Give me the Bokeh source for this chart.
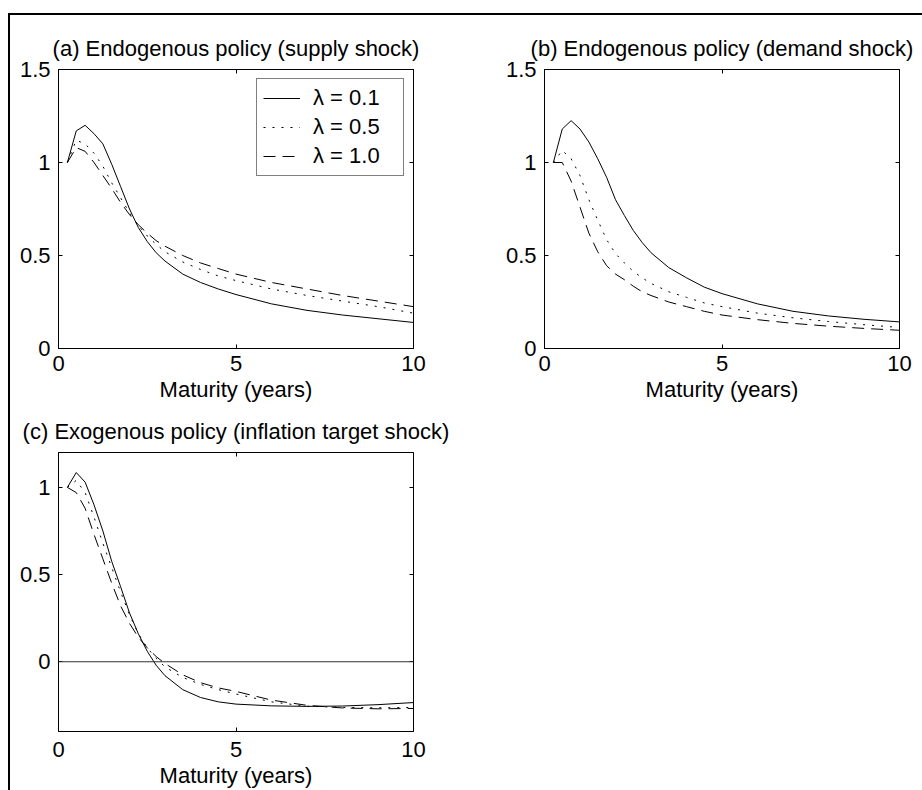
from bokeh.plotting import figure
from bokeh.models import Range1d, LinearAxis, FixedTicker, Legend, LegendItem, Span
from bokeh.layouts import column, row
from bokeh.embed import file_html
from bokeh.resources import INLINE

# ---- data ----
maturity = [0.25, 0.5, 0.75, 1.0, 1.25, 1.5, 1.75, 2.0, 2.25, 2.5, 2.75, 3.0,
            3.5, 4.0, 4.5, 5.0, 6.0, 7.0, 8.0, 9.0, 10.0]

supply_l01 = [1.00, 1.17, 1.20, 1.155, 1.10, 0.99, 0.87, 0.75, 0.65, 0.575, 0.515, 0.47,
              0.40, 0.355, 0.32, 0.29, 0.24, 0.205, 0.18, 0.16, 0.14]
supply_l05 = [1.00, 1.12, 1.10, 1.05, 0.98, 0.89, 0.81, 0.73, 0.66, 0.605, 0.56, 0.52,
              0.465, 0.425, 0.39, 0.365, 0.32, 0.285, 0.255, 0.225, 0.19]
supply_l10 = [1.00, 1.08, 1.06, 1.00, 0.93, 0.86, 0.785, 0.72, 0.665, 0.62, 0.58, 0.55,
              0.50, 0.46, 0.43, 0.40, 0.355, 0.32, 0.285, 0.255, 0.225]

demand_l01 = [1.00, 1.18, 1.225, 1.18, 1.11, 1.02, 0.92, 0.80, 0.715, 0.635, 0.57, 0.515,
              0.435, 0.38, 0.33, 0.295, 0.24, 0.20, 0.175, 0.157, 0.143]
demand_l05 = [1.00, 1.065, 1.02, 0.93, 0.80, 0.69, 0.585, 0.51, 0.46, 0.415, 0.38, 0.35,
              0.305, 0.275, 0.245, 0.225, 0.19, 0.165, 0.145, 0.128, 0.113]
demand_l10 = [1.00, 1.00, 0.90, 0.76, 0.62, 0.52, 0.445, 0.40, 0.37, 0.335, 0.305, 0.285,
              0.25, 0.225, 0.20, 0.18, 0.155, 0.135, 0.12, 0.108, 0.098]

target_l01 = [1.00, 1.085, 1.03, 0.90, 0.75, 0.575, 0.43, 0.28, 0.16, 0.06, -0.02, -0.08,
              -0.16, -0.205, -0.23, -0.243, -0.253, -0.256, -0.254, -0.246, -0.234]
target_l05 = [1.00, 1.04, 0.97, 0.83, 0.68, 0.54, 0.40, 0.27, 0.16, 0.08, 0.02, -0.03,
              -0.09, -0.13, -0.16, -0.185, -0.23, -0.255, -0.262, -0.264, -0.262]
target_l10 = [1.00, 0.97, 0.88, 0.73, 0.59, 0.45, 0.32, 0.22, 0.14, 0.08, 0.03, -0.01,
              -0.075, -0.12, -0.15, -0.17, -0.22, -0.25, -0.265, -0.27, -0.268]

legend_labels = ["\u03bb = 0.1", "\u03bb = 0.5", "\u03bb = 1.0"]
titles = ["(a) Endogenous policy (supply shock)",
          "(b) Endogenous policy (demand shock)",
          "(c) Exogenous policy (inflation target shock)"]
x_ticks = [0, 5, 10]
y_ticks_ab = [0, 0.5, 1, 1.5]
y_ticks_c = [0, 0.5, 1]
x_label = "Maturity (years)"

FONT = "Liberation Sans"
FS = "22px"
DASHES = ["solid", "2 7", "12 7"]


def make_panel(title, series, ylo, yhi, yticks, w, h, bl, br, bt, bb, xstand, lstand):
    p = figure(width=w, height=h, output_backend="svg", toolbar_location=None,
               x_range=Range1d(0, 10), y_range=Range1d(ylo, yhi),
               min_border_left=bl, min_border_right=br,
               min_border_top=bt, min_border_bottom=bb)
    p.title.text = title
    p.title.align = "center"
    p.title.text_font = FONT
    p.title.text_font_size = FS
    p.title.text_font_style = "normal"
    p.title.text_color = "black"
    p.title.standoff = 18
    p.grid.visible = False
    p.outline_line_color = "black"
    p.outline_line_width = 1
    p.background_fill_color = "white"
    p.border_fill_color = "white"

    for ax, ticks in ((p.xaxis[0], x_ticks), (p.yaxis[0], yticks)):
        ax.ticker = FixedTicker(ticks=ticks)
        ax.major_tick_in = 4
        ax.major_tick_out = 0
        ax.minor_tick_line_color = None
        ax.axis_line_color = "black"
        ax.major_tick_line_color = "black"
        ax.major_label_text_font = FONT
        ax.major_label_text_font_size = FS
        ax.major_label_text_color = "black"
    p.yaxis[0].major_label_standoff = 8
    p.xaxis[0].major_label_standoff = xstand
    p.xaxis[0].axis_label = x_label
    p.xaxis[0].axis_label_text_font = FONT
    p.xaxis[0].axis_label_text_font_size = FS
    p.xaxis[0].axis_label_text_font_style = "normal"
    p.xaxis[0].axis_label_text_color = "black"
    p.xaxis[0].axis_label_standoff = lstand

    # mirrored inward ticks on the top and right edges (MATLAB "box on")
    for place, ticks in (("above", x_ticks), ("right", yticks)):
        ax = LinearAxis(ticker=FixedTicker(ticks=ticks), major_tick_in=4, major_tick_out=0,
                        minor_tick_line_color=None, axis_line_color=None,
                        major_label_text_font_size="1px", major_label_text_color=None,
                        major_label_standoff=0, major_tick_line_color="black")
        p.add_layout(ax, place)

    rends = []
    for ys, dash in zip(series, DASHES):
        r = p.line(maturity, ys, line_color="black", line_width=1, line_dash=dash)
        rends.append(r)
    return p, rends


pa, ra = make_panel(titles[0], [supply_l01, supply_l05, supply_l10], 0, 1.5, y_ticks_ab,
                    470, 390, 48, 67, 54, 57, 7, 3)
pb, rb = make_panel(titles[1], [demand_l01, demand_l05, demand_l10], 0, 1.5, y_ticks_ab,
                    442, 390, 64, 23, 54, 57, 7, 3)
pc, rc = make_panel(titles[2], [target_l01, target_l05, target_l10], -0.4, 1.2, y_ticks_c,
                    470, 385, 48, 67, 47, 59, 10, 3)

pc.add_layout(Span(location=0, dimension="width", line_color="#333333", line_width=1))

legend = Legend(items=[LegendItem(label=lab, renderers=[r]) for lab, r in zip(legend_labels, ra)],
                location="top_right", margin=9, padding=6, spacing=3,
                glyph_width=37, glyph_height=20, label_height=20, label_width=84,
                label_standoff=13,
                label_text_font=FONT, label_text_font_size=FS, label_text_color="black",
                border_line_color="black", border_line_width=1,
                background_fill_color="white", background_fill_alpha=1.0)
pa.add_layout(legend)

layout = column(row(pa, pb, spacing=0), pc, spacing=0,
                styles={"border-left": "2px solid black", "border-top": "2px solid black",
                        "margin-top": "13px", "margin-left": "8px"})

open("out.html", "w").write(file_html(layout, INLINE))
